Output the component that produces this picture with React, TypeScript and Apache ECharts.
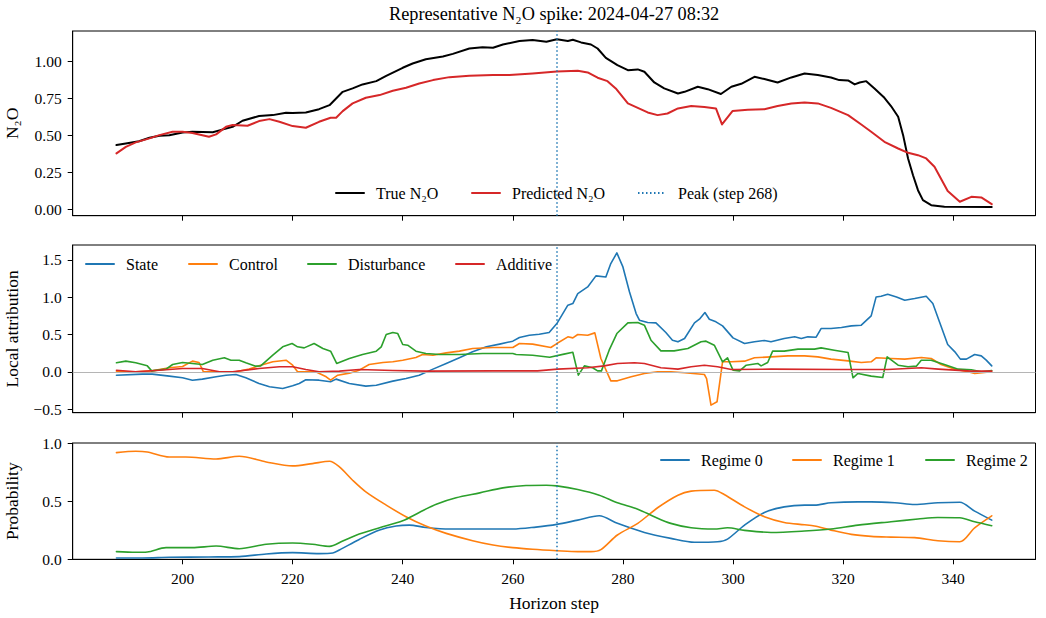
import React, { useEffect, useRef } from "react";
import * as echarts from "echarts";

const titleText = "Representative N₂O spike: 2024-04-27 08:32";
const peakStep = 268;
const peakLabel = "Peak (step 268)";
const xTicks = [200, 220, 240, 260, 280, 300, 320, 340];
const n2oTicks = [0, 0.25, 0.5, 0.75, 1.0];
const attrTicks = [-0.5, 0, 0.5, 1.0, 1.5];
const probTicks = [0, 0.5, 1.0];

// Panel 1: N2O
const trueSteps = [188, 189.7, 192.1, 194, 195.8, 197.6, 200, 201.8, 205.5, 206.7, 209.1, 210.9, 213.9, 216.4, 218.8, 220, 222.4, 224.8, 226.7, 227.9, 229.1, 230.9, 232.7, 235.2, 237, 240, 241.8, 244.2, 247.3, 249.1, 252.1, 254.5, 256.4, 258.2, 261.2, 263.6, 266.1, 268, 270, 270.9, 272.4, 274.2, 275.4, 276.9, 279, 280.9, 282.7, 283.9, 285.7, 287.5, 290, 291.2, 293.6, 295.4, 297.8, 299.7, 301.5, 303.9, 305.7, 308.1, 310.6, 313, 315.4, 317.8, 319.3, 320.9, 322.1, 323, 324.2, 325.7, 327.5, 328.7, 330, 330.9, 331.8, 332.7, 333.6, 334.5, 336, 338.4, 347];
const trueVals = [0.434, 0.445, 0.46, 0.483, 0.497, 0.5, 0.519, 0.524, 0.52, 0.533, 0.557, 0.598, 0.63, 0.636, 0.652, 0.65, 0.654, 0.676, 0.703, 0.748, 0.793, 0.816, 0.843, 0.865, 0.9, 0.955, 0.984, 1.013, 1.031, 1.049, 1.085, 1.094, 1.09, 1.112, 1.135, 1.142, 1.13, 1.148, 1.135, 1.144, 1.126, 1.112, 1.085, 1.022, 0.973, 0.939, 0.944, 0.928, 0.856, 0.816, 0.782, 0.793, 0.827, 0.811, 0.778, 0.827, 0.847, 0.894, 0.879, 0.856, 0.89, 0.917, 0.906, 0.89, 0.872, 0.87, 0.843, 0.856, 0.865, 0.816, 0.753, 0.697, 0.625, 0.501, 0.344, 0.231, 0.13, 0.063, 0.029, 0.018, 0.016];
const predSteps = [188, 189.7, 191.5, 194, 195.8, 198.2, 200, 201.8, 204.8, 206.1, 207.9, 209.1, 211.8, 213.9, 215.8, 217.6, 220, 222.4, 224.8, 226.9, 227.9, 229.1, 230.9, 233.3, 235.8, 238.2, 240.6, 243, 245.5, 248.5, 252.1, 256.4, 259.4, 263.6, 268, 271.8, 273.6, 275.4, 277.2, 278.7, 280.9, 282.7, 284.5, 286.3, 288.1, 290, 292.4, 294.8, 296.9, 298, 299.9, 302.7, 305.7, 308.1, 310.6, 313, 315.4, 317.8, 320.9, 323.3, 325.1, 327.5, 330, 331.8, 333.6, 335.1, 336.6, 339, 341.2, 343.3, 345.1, 347];
const predVals = [0.378, 0.422, 0.452, 0.479, 0.501, 0.524, 0.524, 0.515, 0.49, 0.506, 0.557, 0.569, 0.564, 0.596, 0.609, 0.591, 0.562, 0.551, 0.591, 0.618, 0.618, 0.663, 0.715, 0.753, 0.771, 0.8, 0.82, 0.849, 0.872, 0.892, 0.901, 0.906, 0.906, 0.917, 0.93, 0.935, 0.924, 0.888, 0.865, 0.816, 0.715, 0.685, 0.654, 0.636, 0.647, 0.681, 0.697, 0.69, 0.681, 0.573, 0.663, 0.672, 0.676, 0.697, 0.715, 0.721, 0.715, 0.685, 0.636, 0.573, 0.524, 0.456, 0.411, 0.382, 0.366, 0.344, 0.288, 0.124, 0.052, 0.085, 0.081, 0.036];

// Panel 2: local attribution
const stateSteps = [188, 192.7, 194.5, 197.6, 200, 201.8, 203.6, 206.1, 207.9, 209.7, 211.5, 213.9, 215.8, 218.2, 220, 221.2, 222.4, 224.8, 226.9, 227.9, 230.3, 233.3, 235.2, 238.2, 240.6, 243, 245.5, 247.9, 250.3, 252.7, 255.2, 257.6, 260, 261.2, 263, 264.8, 266.6, 268, 270, 270.9, 271.8, 273.6, 275.1, 276.9, 277.8, 278.9, 280, 281.2, 282.4, 283, 284.5, 286, 287.8, 289, 290, 291.2, 293, 293.9, 294.9, 295.7, 296.9, 298.1, 300, 302.1, 303.9, 305.7, 306.9, 309.3, 311.2, 312.4, 313.6, 315.1, 316, 317.8, 319.7, 321.5, 323.3, 325.1, 326, 326.9, 328.1, 329.7, 331.2, 333, 335.1, 336.3, 337.5, 339, 340.3, 341.3, 342.4, 343.9, 345.1, 346, 347];
const stateVals = [-0.045, -0.031, -0.031, -0.058, -0.08, -0.112, -0.098, -0.067, -0.045, -0.036, -0.08, -0.156, -0.2, -0.223, -0.187, -0.156, -0.107, -0.112, -0.134, -0.098, -0.156, -0.192, -0.179, -0.125, -0.089, -0.045, 0.036, 0.112, 0.188, 0.268, 0.335, 0.371, 0.411, 0.46, 0.491, 0.504, 0.527, 0.647, 0.893, 0.915, 1.049, 1.138, 1.286, 1.272, 1.451, 1.594, 1.406, 1.071, 0.781, 0.692, 0.661, 0.656, 0.527, 0.424, 0.402, 0.446, 0.656, 0.705, 0.795, 0.705, 0.67, 0.616, 0.455, 0.379, 0.402, 0.42, 0.402, 0.446, 0.469, 0.446, 0.469, 0.464, 0.58, 0.58, 0.594, 0.616, 0.625, 0.75, 1.004, 1.013, 1.04, 1.004, 0.96, 0.982, 1.013, 0.915, 0.67, 0.366, 0.268, 0.17, 0.17, 0.232, 0.214, 0.156, 0.08];
const controlSteps = [188, 191.5, 194.5, 197.6, 200, 201.8, 203, 203.8, 206.7, 209.7, 212.1, 213.9, 216.4, 218.8, 220, 220.9, 224.2, 226.1, 226.9, 228.2, 230.3, 232.1, 233.9, 236.4, 238.2, 240, 242.4, 243.6, 245.5, 247.9, 250.3, 252.7, 256.4, 260, 261.2, 263.6, 266.9, 268, 270, 270.9, 271.8, 273.6, 274.9, 276, 277.8, 279, 281.5, 283.9, 286.3, 288.7, 291.2, 294.8, 295.2, 296, 297.1, 298.1, 299.7, 302.1, 303.9, 306.9, 310, 313, 315.4, 317.8, 320.9, 323.3, 325.1, 326, 328.7, 331.2, 334.2, 336, 337.8, 340.3, 342.7, 343.9, 347];
const controlVals = [0, 0, 0.013, 0.054, 0.071, 0.143, 0.125, 0, 0, 0, 0.036, 0.08, 0.134, 0.156, 0.089, 0, 0, -0.067, -0.112, -0.045, -0.018, 0.022, 0.098, 0.125, 0.134, 0.156, 0.192, 0.232, 0.223, 0.254, 0.277, 0.313, 0.326, 0.326, 0.379, 0.371, 0.326, 0.379, 0.469, 0.455, 0.5, 0.491, 0.522, 0.179, -0.121, -0.121, -0.067, -0.022, 0, 0, -0.013, -0.036, -0.09, -0.446, -0.402, 0.134, 0.134, 0.143, 0.188, 0.2, 0.214, 0.214, 0.2, 0.17, 0.147, 0.125, 0.134, 0.188, 0.179, 0.17, 0.192, 0.179, 0.098, 0.036, 0, -0.022, 0];
const disturbSteps = [188, 189.7, 191.5, 193.6, 194.4, 197, 198.2, 200, 201.8, 203.6, 205.5, 207.6, 208.8, 210.3, 211.5, 213.3, 214.2, 216.4, 218.2, 219.9, 220.9, 222.1, 223.9, 225.5, 226.9, 228, 230.3, 232.7, 235.2, 236.1, 237, 238.2, 239.1, 240, 240.9, 242.4, 244.2, 246.7, 250.3, 254.5, 260, 260.6, 263.6, 266.7, 269.3, 270.9, 271.9, 273, 274.5, 275.4, 276.1, 277.5, 278.9, 280.9, 282.7, 283.9, 285.1, 286.9, 289.3, 291.8, 294.2, 295.1, 296.6, 298.1, 299, 300, 301.2, 302.4, 304.5, 305.1, 306.3, 307.2, 309.3, 311.8, 314.8, 316, 318.4, 320.9, 321.8, 322.7, 325.1, 327.2, 328, 330, 331.8, 333.3, 334.2, 336, 338.4, 340.9, 343.3, 345.1, 347];
const disturbVals = [0.121, 0.143, 0.121, 0.08, 0.013, 0.036, 0.098, 0.125, 0.112, 0.098, 0.156, 0.188, 0.156, 0.156, 0.121, 0.076, 0.08, 0.223, 0.335, 0.379, 0.335, 0.321, 0.379, 0.313, 0.277, 0.112, 0.179, 0.232, 0.277, 0.335, 0.5, 0.527, 0.513, 0.366, 0.357, 0.277, 0.246, 0.232, 0.232, 0.246, 0.246, 0.232, 0.223, 0.196, 0.237, 0.263, -0.045, 0.08, 0.054, 0.013, 0.013, 0.29, 0.513, 0.656, 0.661, 0.625, 0.424, 0.281, 0.281, 0.313, 0.402, 0.411, 0.357, 0.134, 0.188, 0.022, 0.013, 0.089, 0.112, 0.08, 0.125, 0.277, 0.277, 0.304, 0.304, 0.321, 0.29, 0.259, -0.08, -0.022, -0.058, -0.076, 0.2, 0.089, 0.067, 0.076, 0.156, 0.156, 0.098, 0.036, 0.027, 0, 0.018];
const additiveSteps = [188, 191.5, 195.8, 200, 203.6, 206.7, 209.1, 213.9, 217.6, 220, 222.4, 224.8, 228.5, 232.1, 238.2, 244.2, 256.4, 264.5, 268.1, 273.6, 276.6, 279, 282.1, 283.9, 286.9, 290, 292.4, 294.8, 297.2, 299.7, 306.9, 319.1, 328.1, 334.2, 337.3, 343.3, 347];
const additiveVals = [0.022, 0, 0.022, 0.045, 0.045, 0, 0, 0.045, 0.067, 0.067, 0.031, 0, 0.009, 0.031, 0.018, 0.009, 0.013, 0.013, 0.036, 0.054, 0.08, 0.112, 0.121, 0.112, 0.054, 0.036, 0.067, 0.089, 0.067, 0.031, 0.036, 0.031, 0.031, 0.054, 0.036, 0.009, 0.009];

// Panel 3: regime probabilities
const reg0Steps = [188, 192.7, 197.6, 204.8, 210.3, 215.2, 220, 224.8, 227.3, 228.5, 232.1, 235.8, 238.8, 241.2, 244.2, 248.5, 256.4, 260, 264.2, 268, 271.8, 275.7, 279, 283.9, 288.7, 293, 297.2, 299, 302.1, 305.7, 309.3, 313, 314.8, 317.8, 322.7, 325.1, 329.4, 333, 337.2, 341.2, 343.9, 347];
const reg0Vals = [0.011, 0.011, 0.017, 0.02, 0.023, 0.046, 0.057, 0.049, 0.054, 0.08, 0.171, 0.251, 0.286, 0.294, 0.274, 0.26, 0.26, 0.26, 0.277, 0.3, 0.337, 0.374, 0.309, 0.231, 0.18, 0.146, 0.151, 0.174, 0.294, 0.403, 0.451, 0.466, 0.466, 0.486, 0.494, 0.494, 0.486, 0.471, 0.486, 0.491, 0.414, 0.337];
const reg1Steps = [188, 191.5, 193.6, 197.6, 200.6, 206.1, 210.3, 215.2, 220, 223.6, 226.7, 228.5, 230.9, 233.3, 237, 240.6, 244.2, 247.9, 252.7, 256.4, 260, 263.6, 268, 271.8, 274.2, 276, 279, 282.7, 286.3, 290, 292.4, 296.6, 298.4, 302.1, 305.7, 309.3, 313, 314.8, 317.8, 321.5, 325.1, 328.7, 333, 337.2, 341.2, 343.9, 347];
const reg1Vals = [0.917, 0.929, 0.923, 0.88, 0.88, 0.863, 0.886, 0.837, 0.803, 0.823, 0.843, 0.794, 0.68, 0.58, 0.466, 0.366, 0.286, 0.223, 0.16, 0.123, 0.1, 0.086, 0.074, 0.066, 0.066, 0.083, 0.209, 0.309, 0.443, 0.551, 0.586, 0.594, 0.557, 0.451, 0.366, 0.317, 0.297, 0.286, 0.251, 0.214, 0.197, 0.191, 0.186, 0.16, 0.151, 0.271, 0.374];
const reg2Steps = [188, 191.5, 193.6, 197, 201.8, 206.1, 210.3, 215.2, 220, 223.6, 226.7, 229.1, 232.1, 235.8, 240, 243, 246.1, 249.7, 254, 258.2, 262.4, 266.1, 268, 271.8, 275.7, 279, 282.7, 285.7, 288.7, 292.4, 296.6, 299, 302.1, 306.9, 313, 317.8, 322.7, 328.7, 333.6, 337.2, 341.2, 343.9, 347];
const reg2Vals = [0.066, 0.06, 0.063, 0.1, 0.1, 0.114, 0.091, 0.129, 0.14, 0.129, 0.111, 0.157, 0.217, 0.271, 0.331, 0.403, 0.474, 0.529, 0.571, 0.614, 0.634, 0.637, 0.631, 0.6, 0.551, 0.486, 0.431, 0.366, 0.309, 0.271, 0.26, 0.271, 0.249, 0.231, 0.243, 0.26, 0.294, 0.323, 0.346, 0.36, 0.357, 0.323, 0.289];

const FONT = "'Liberation Serif', 'Times New Roman', serif";
const C_BLUE = "#1f77b4";
const C_ORANGE = "#ff7f0e";
const C_GREEN = "#2ca02c";
const C_RED = "#d62728";
const DOT: number[] = [1.5, 2.5];

const zip = (s: number[], v: number[]) => s.map((x, i) => [x, v[i]]);

const X_MIN = 180.05;
const X_MAX = 354.95;
const GL = 72.7;
const GW = 962.8;

function lineSeries(name: string, steps: number[], vals: number[], color: string, width: number, idx: number, smooth: number | boolean = false) {
  return {
    type: "line",
    name,
    data: zip(steps, vals),
    xAxisIndex: idx,
    yAxisIndex: idx,
    symbol: "none",
    showSymbol: false,
    smooth,
    color,
    lineStyle: { color, width, cap: "round", join: "round" },
    silent: true,
    z: 3,
  };
}

function peakSeries(idx: number, name: string) {
  return {
    type: "line",
    name,
    data: [],
    xAxisIndex: idx,
    yAxisIndex: idx,
    symbol: "none",
    color: C_BLUE,
    lineStyle: { color: C_BLUE, width: 1.5, type: DOT },
    silent: true,
    z: 4,
    markLine: {
      silent: true,
      symbol: "none",
      label: { show: false },
      lineStyle: { color: C_BLUE, width: 1.5, type: DOT },
      data: [{ xAxis: peakStep }],
      animation: false,
    },
  };
}

function legendAt(name: string, left: number, centerY: number) {
  return {
    data: [name],
    left,
    top: centerY - 9,
    padding: 0,
    itemWidth: 28,
    itemHeight: 14,
    selectedMode: false,
    itemStyle: { opacity: 0 },
    textStyle: { fontFamily: FONT, fontSize: 16, color: "#000", padding: [0, 0, 0, 7] },
  };
}

function xAxisFor(idx: number, showLabels: boolean) {
  return {
    type: "value",
    gridIndex: idx,
    min: X_MIN,
    max: X_MAX,
    axisLine: { show: true, onZero: false, lineStyle: { color: "#000", width: 1 } },
    axisTick: { show: true, length: 5, customValues: xTicks, lineStyle: { color: "#000", width: 1 } },
    axisLabel: {
      show: showLabels,
      customValues: xTicks,
      margin: 11,
      fontFamily: FONT,
      fontSize: 15.5,
      color: "#000",
    },
    splitLine: { show: false },
    name: showLabels ? "Horizon step" : "",
    nameLocation: "middle",
    nameGap: 35,
    nameTextStyle: { fontFamily: FONT, fontSize: 17.5, color: "#000" },
  };
}

function yAxisFor(idx: number, min: number, max: number, ticks: number[], fmt: (v: number) => string, name: string) {
  return {
    type: "value",
    gridIndex: idx,
    min,
    max,
    axisLine: { show: true, onZero: false, lineStyle: { color: "#000", width: 1 } },
    axisTick: { show: true, length: 5, customValues: ticks, lineStyle: { color: "#000", width: 1 } },
    axisLabel: {
      customValues: ticks,
      formatter: fmt,
      margin: 11,
      fontFamily: FONT,
      fontSize: 15.5,
      color: "#000",
    },
    splitLine: { show: false },
    name,
    nameLocation: "middle",
    nameGap: 51.5,
    nameTextStyle: { fontFamily: FONT, fontSize: 17.5, color: "#000" },
  };
}

const fmt1 = (v: number) => (v < 0 ? "\u2212" + Math.abs(v).toFixed(1) : v.toFixed(1));
const fmt2 = (v: number) => v.toFixed(2);

export default function App() {
  const ref = useRef<HTMLDivElement>(null);
  useEffect(() => {
    if (!ref.current) return;
    const chart = echarts.init(ref.current, undefined, { renderer: "svg" });
    const gridBase = {
      left: GL,
      width: GW,
      show: true,
      borderColor: "#000",
      borderWidth: 1,
      backgroundColor: "transparent",
      containLabel: false,
      outerBoundsMode: "none",
    };
    const option = {
      animation: false,
      backgroundColor: "#fff",
      textStyle: { fontFamily: FONT },
      graphic: [
        {
          type: "text",
          x: GL + GW / 2,
          y: 14,
          style: { text: titleText, fontFamily: FONT, fontSize: 18.3, fill: "#000", textAlign: "center", textVerticalAlign: "middle" },
        },
      ],
      grid: [
        { ...gridBase, top: 31, height: 184.7 },
        { ...gridBase, top: 245, height: 167.7 },
        { ...gridBase, top: 443, height: 116.3 },
      ],
      xAxis: [xAxisFor(0, false), xAxisFor(1, false), xAxisFor(2, true)],
      yAxis: [
        yAxisFor(0, -0.042, 1.203, n2oTicks, fmt2, "N₂O"),
        yAxisFor(1, -0.548, 1.70, attrTicks, fmt1, "Local attribution"),
        yAxisFor(2, 0, 1, probTicks, fmt1, "Probability"),
      ],
      legend: [
        legendAt("True N₂O", 335, 194),
        legendAt("Predicted N₂O", 471, 194),
        legendAt(peakLabel, 637, 194),
        legendAt("State", 85, 265),
        legendAt("Control", 188, 265),
        legendAt("Disturbance", 307, 265),
        legendAt("Additive", 455, 265),
        legendAt("Regime 0", 660, 461),
        legendAt("Regime 1", 792, 461),
        legendAt("Regime 2", 925, 461),
      ],
      series: [
        lineSeries("True N₂O", trueSteps, trueVals, "#000000", 2, 0),
        lineSeries("Predicted N₂O", predSteps, predVals, C_RED, 2, 0),
        peakSeries(0, peakLabel),
        {
          type: "line",
          name: "zero",
          data: [],
          xAxisIndex: 1,
          yAxisIndex: 1,
          symbol: "none",
          silent: true,
          z: 1,
          markLine: {
            silent: true,
            symbol: "none",
            label: { show: false },
            lineStyle: { color: "#b5b5b5", width: 1, type: "solid" },
            data: [{ yAxis: 0 }],
          },
        },
        lineSeries("State", stateSteps, stateVals, C_BLUE, 1.6, 1),
        lineSeries("Control", controlSteps, controlVals, C_ORANGE, 1.6, 1),
        lineSeries("Disturbance", disturbSteps, disturbVals, C_GREEN, 1.6, 1),
        lineSeries("Additive", additiveSteps, additiveVals, C_RED, 1.6, 1),
        peakSeries(1, "peak-2"),
        lineSeries("Regime 0", reg0Steps, reg0Vals, C_BLUE, 1.6, 2, 0.3),
        lineSeries("Regime 1", reg1Steps, reg1Vals, C_ORANGE, 1.6, 2, 0.3),
        lineSeries("Regime 2", reg2Steps, reg2Vals, C_GREEN, 1.6, 2, 0.3),
        peakSeries(2, "peak-3"),
      ],
    };
    chart.setOption(option as any);
    return () => chart.dispose();
  }, []);
  return <div ref={ref} style={{ position: "fixed", left: 0, top: 0, width: 1046, height: 618, background: "#fff" }} />;
}
